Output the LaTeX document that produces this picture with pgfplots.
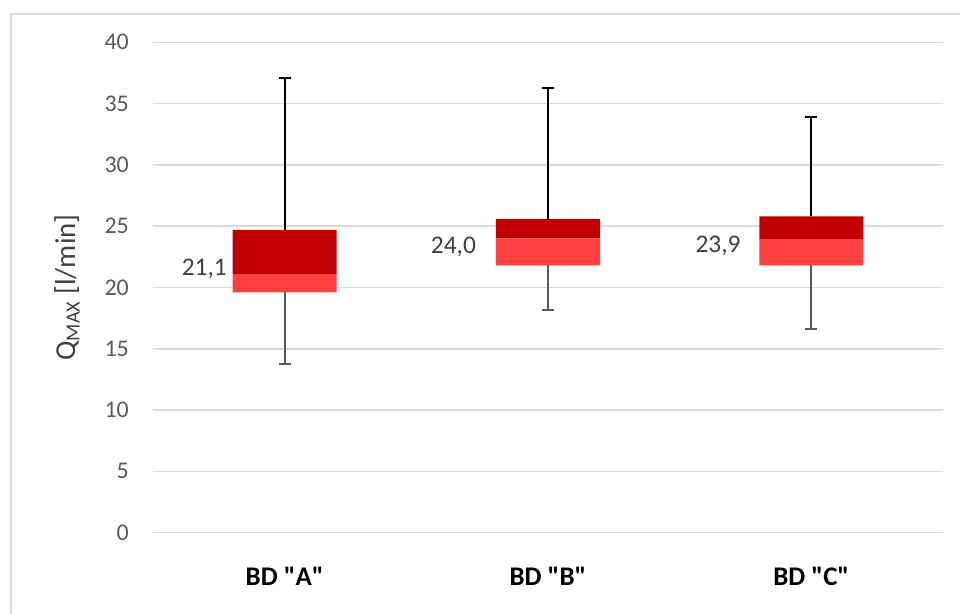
\documentclass[border=0pt]{standalone}
\usepackage{pgfplots}
\pgfplotsset{compat=1.18}
\usepackage{fontspec}
\setmainfont{Carlito}[Ligatures=TeXOff]
\definecolor{darkred}{HTML}{C00000}
\definecolor{lightred}{HTML}{FF4040}
\definecolor{gridgray}{HTML}{D9D9D9}
\definecolor{tickgray}{HTML}{595959}
\definecolor{textgray}{HTML}{404040}
\begin{document}
\begin{tikzpicture}
\path[use as bounding box] (0,0) rectangle (960bp,614bp);
\draw[gridgray, line width=1.5bp] (11bp,-5bp) -- (11bp,600bp) -- (970bp,600bp);
\begin{axis}[
  at={(153bp,81.3bp)}, anchor=south west, scale only axis,
  width=790bp, height=490.4bp,
  xmin=-0.5, xmax=2.5, ymin=0, ymax=40,
  ybar stacked, bar width=0.395,
  xtick={0,1,2}, xticklabels={BD "A", BD "B", BD "C"},
  ytick={0,5,...,40},
  ymajorgrids, grid style={gridgray, line width=1.5bp},
  axis line style={draw=none}, major tick length=0pt,
  /pgf/number format/assume math mode=true,
  yticklabel style={font=\fontsize{24}{28}\selectfont, text=tickgray, inner sep=0pt, xshift=-24bp},
  xticklabel style={font=\fontsize{27}{32}\selectfont\bfseries, text=black, inner sep=0pt, yshift=-34bp},
  ylabel={Q\textsubscript{MAX} [l/min]},
  every axis y label/.style={at={(axis description cs:-0.1089,0.5)}, rotate=90, anchor=center, font=\fontsize{29}{34}\selectfont, text=textgray},
]
\addplot[draw=none, fill=none] coordinates {(0,19.6) (1,21.8) (2,21.8)};
\addplot[draw=none, fill=lightred] coordinates {(0,1.5) (1,2.2) (2,2.1)};
\addplot[draw=none, fill=darkred] coordinates {(0,3.6) (1,1.6) (2,1.9)};
\end{axis}
\begin{axis}[
  at={(153bp,81.3bp)}, anchor=south west, scale only axis,
  width=790bp, height=490.4bp,
  xmin=-0.5, xmax=2.5, ymin=0, ymax=40, hide axis,
]
% upper whiskers (from Q3 to max)
\addplot[draw=none, mark=none,
  error bars/.cd, y dir=plus, y explicit,
  error bar style={draw=black, line width=2.2bp},
  error mark options={rotate=90, draw=black, line width=2.2bp, mark size=6bp}]
  coordinates {(0,24.7) +- (0,12.4) (1,25.6) +- (0,10.7) (2,25.8) +- (0,8.1)};
% lower whiskers (from Q1 to min)
\addplot[draw=none, mark=none,
  error bars/.cd, y dir=minus, y explicit,
  error bar style={draw=tickgray, line width=2bp},
  error mark options={rotate=90, draw=tickgray, line width=2bp, mark size=6bp}]
  coordinates {(0,19.6) +- (0,5.8) (1,21.8) +- (0,3.6) (2,21.8) +- (0,5.2)};
\node[anchor=east, inner sep=0pt, text=textgray, font=\fontsize{25.5}{30}\selectfont] at (axis cs:-0.219,21.5) {21,1};
\node[anchor=east, inner sep=0pt, text=textgray, font=\fontsize{25.5}{30}\selectfont] at (axis cs:0.727,23.3) {24,0};
\node[anchor=east, inner sep=0pt, text=textgray, font=\fontsize{25.5}{30}\selectfont] at (axis cs:1.732,23.4) {23,9};
\end{axis}
\end{tikzpicture}
\end{document}
